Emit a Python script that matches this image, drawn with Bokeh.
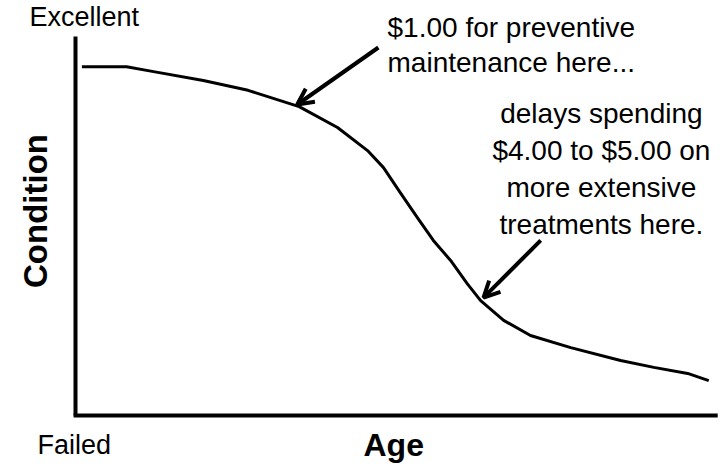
from bokeh.plotting import figure
from bokeh.models import Range1d, Arrow, OpenHead
from bokeh.core.properties import value
from bokeh.embed import file_html
from bokeh.resources import INLINE
import math

# --- data: pavement condition vs age (0-100 scale on both) ---
age = [1, 8, 12, 20, 27, 35, 41, 45.7, 48.2, 50.9, 53.5, 56, 58.7, 61.3, 63.4, 67, 71.2, 77.5, 85.3, 90.5, 95.8, 99.1]
condition = [92, 92, 90.8, 88.4, 85.8, 81.5, 76.0, 69.9, 65.4, 58.6, 52.2, 46.2, 40.9, 34.8, 30.3, 25.1, 21.1, 17.9, 14.5, 12.7, 11.1, 9.2]

axis_top_label = "Excellent"
axis_bottom_label = "Failed"
x_title = "Age"
y_title = "Condition"
note1_lines = ["$1.00 for preventive", "maintenance here..."]
note2_lines = ["delays spending", "$4.00 to $5.00 on", "more extensive", "treatments here."]

FONT = "Liberation Sans"

p = figure(width=722, height=465, output_backend="svg", toolbar_location=None,
           x_range=Range1d(-11.737, 101.25), y_range=Range1d(-13.19, 109.5),
           min_border=0, min_border_left=0, min_border_right=0,
           min_border_top=0, min_border_bottom=0)
p.axis.visible = False
p.grid.visible = False
p.outline_line_color = None
p.background_fill_color = "white"
p.border_fill_color = "white"

# axes drawn as lines
p.line([0, 0], [0, 100], line_color="black", line_width=4)
p.line([-0.3, 100.5], [0, 0], line_color="black", line_width=4)

# condition curve
p.line(age, condition, line_color="black", line_width=3, line_join="round")

# axis end labels
p.text(x=[-7.2], y=[105.04], text=[axis_top_label], text_font=value(FONT),
       text_font_size="27px", text_align="left", text_baseline="alphabetic", text_color="black")
p.text(x=[-5.95], y=[-7.91], text=[axis_bottom_label], text_font=value(FONT),
       text_font_size="27px", text_align="left", text_baseline="alphabetic", text_color="black")

# axis titles
p.text(x=[49.8], y=[-7.91], text=[x_title], text_font=value(FONT), text_font_style="bold",
       text_font_size="32px", text_align="center", text_baseline="alphabetic", text_color="black")
p.text(x=[-6.25], y=[53.96], text=[y_title], text_font=value(FONT), text_font_style="bold",
       text_font_size="33px", text_align="center", text_baseline="alphabetic", text_color="black",
       angle=math.pi / 2)

# annotations
p.text(x=[48.83, 48.83], y=[102.38, 93.14], text=note1_lines, text_font=value(FONT),
       text_font_size="28px", text_align="left", text_baseline="alphabetic", text_color="black")
p.text(x=[82.3] * 4, y=[79.68, 69.92, 60.16, 50.40], text=note2_lines, text_font=value(FONT),
       text_font_size="28px", text_align="center", text_baseline="alphabetic", text_color="black")

# arrows
p.add_layout(Arrow(x_start=47.4, y_start=97.1, x_end=34.7, y_end=82.06,
                   line_width=4, line_color="black",
                   end=OpenHead(size=16, line_width=4, line_color="black")))
p.add_layout(Arrow(x_start=72.8, y_start=46.2, x_end=63.85, y_end=31.1,
                   line_width=4, line_color="black",
                   end=OpenHead(size=16, line_width=4, line_color="black")))

open("out.html", "w").write(file_html(p, INLINE))
